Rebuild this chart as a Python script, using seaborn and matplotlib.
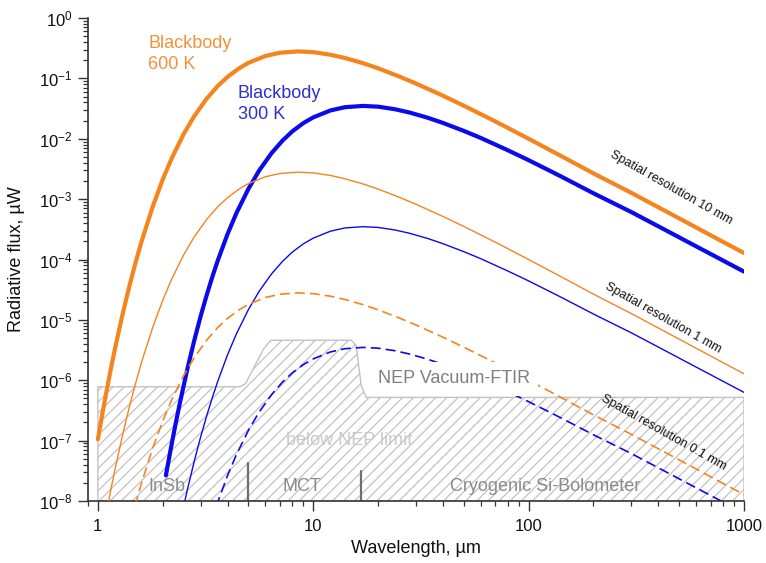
import matplotlib
matplotlib.use("Agg")
import matplotlib.pyplot as plt
from matplotlib.ticker import LogLocator, NullFormatter
import seaborn as sns

# ---- data -------------------------------------------------------------
# wavelength grid (µm) for the 600 K blackbody
wl_600 = [1.0, 1.05, 1.1, 1.15, 1.2, 1.3, 1.4, 1.5, 1.6, 1.8, 2.0, 2.2, 2.5, 2.8,
          3.2, 3.6, 4.0, 4.5, 5.0, 6.0, 7.0, 8.5, 10, 12, 14, 17, 20, 25, 30, 40,
          50, 70, 100, 150, 200, 300, 500, 700, 1000]
# radiative flux (µW) at 10 mm, 1 mm and 0.1 mm spatial resolution
flux_600_10mm = [1.05e-7, 2.83e-7, 6.95e-7, 1.57e-6, 3.30e-6, 1.205e-5, 3.61e-5,
                 9.18e-5, 2.06e-4, 7.63e-4, 2.11e-3, 4.71e-3, 1.19e-2, 2.36e-2,
                 4.62e-2, 7.46e-2, 0.106, 0.145, 0.181, 0.235, 0.266, 0.280, 0.272,
                 0.247, 0.218, 0.179, 0.147, 0.108, 0.0822, 0.0517, 0.0353, 0.0194,
                 0.0100, 4.64e-3, 2.67e-3, 1.27e-3, 4.8e-4, 2.52e-4, 1.28e-4]
flux_600_1mm = [1.05e-9, 2.83e-9, 6.95e-9, 1.57e-8, 3.30e-8, 1.205e-7, 3.61e-7,
                9.18e-7, 2.06e-6, 7.63e-6, 2.11e-5, 4.71e-5, 1.19e-4, 2.36e-4,
                4.62e-4, 7.46e-4, 1.06e-3, 1.45e-3, 1.81e-3, 2.35e-3, 2.66e-3,
                2.80e-3, 2.72e-3, 2.47e-3, 2.18e-3, 1.79e-3, 1.47e-3, 1.08e-3,
                8.22e-4, 5.17e-4, 3.53e-4, 1.94e-4, 1.00e-4, 4.64e-5, 2.67e-5,
                1.27e-5, 4.8e-6, 2.52e-6, 1.28e-6]
flux_600_01mm = [1.05e-11, 2.83e-11, 6.95e-11, 1.57e-10, 3.30e-10, 1.205e-9,
                 3.61e-9, 9.18e-9, 2.06e-8, 7.63e-8, 2.11e-7, 4.71e-7, 1.19e-6,
                 2.36e-6, 4.62e-6, 7.46e-6, 1.06e-5, 1.45e-5, 1.81e-5, 2.35e-5,
                 2.66e-5, 2.80e-5, 2.72e-5, 2.47e-5, 2.18e-5, 1.79e-5, 1.47e-5,
                 1.08e-5, 8.22e-6, 5.17e-6, 3.53e-6, 1.94e-6, 1.00e-6, 4.64e-7,
                 2.67e-7, 1.27e-7, 4.8e-8, 2.52e-8, 1.28e-8]

# wavelength grid (µm) for the 300 K blackbody
wl_300 = [2.0, 2.07, 2.1, 2.2, 2.3, 2.4, 2.6, 2.8, 3.0, 3.2, 3.4, 3.6, 4.0, 4.4,
          5.0, 5.6, 6.4, 7.2, 8.0, 9.0, 10, 12, 14, 17, 20, 24, 28, 34, 40, 50,
          60, 80, 100, 140, 200, 300, 400, 600, 1000]
flux_300_10mm = [1.31e-8, 2.66e-8, 3.54e-8, 8.69e-8, 1.96e-7, 4.12e-7, 1.51e-6,
                 4.51e-6, 1.15e-5, 2.57e-5, 5.17e-5, 9.54e-5, 2.64e-4, 5.89e-4,
                 1.48e-3, 2.95e-3, 5.77e-3, 9.33e-3, 1.33e-2, 1.82e-2, 2.26e-2,
                 2.94e-2, 3.33e-2, 3.50e-2, 3.40e-2, 3.08e-2, 2.72e-2, 2.23e-2,
                 1.83e-2, 1.35e-2, 1.03e-2, 6.46e-3, 4.42e-3, 2.42e-3, 1.25e-3,
                 6.1e-4, 3.55e-4, 1.65e-4, 6.3e-5]
flux_300_1mm = [1.31e-10, 2.66e-10, 3.54e-10, 8.69e-10, 1.96e-9, 4.12e-9, 1.51e-8,
                4.51e-8, 1.15e-7, 2.57e-7, 5.17e-7, 9.54e-7, 2.64e-6, 5.89e-6,
                1.48e-5, 2.95e-5, 5.77e-5, 9.33e-5, 1.33e-4, 1.82e-4, 2.26e-4,
                2.94e-4, 3.33e-4, 3.50e-4, 3.40e-4, 3.08e-4, 2.72e-4, 2.23e-4,
                1.83e-4, 1.35e-4, 1.03e-4, 6.46e-5, 4.42e-5, 2.42e-5, 1.25e-5,
                6.1e-6, 3.55e-6, 1.65e-6, 6.3e-7]
flux_300_01mm = [1.31e-12, 2.66e-12, 3.54e-12, 8.69e-12, 1.96e-11, 4.12e-11,
                 1.51e-10, 4.51e-10, 1.15e-9, 2.57e-9, 5.17e-9, 9.54e-9, 2.64e-8,
                 5.89e-8, 1.48e-7, 2.95e-7, 5.77e-7, 9.33e-7, 1.33e-6, 1.82e-6,
                 2.26e-6, 2.94e-6, 3.33e-6, 3.50e-6, 3.40e-6, 3.08e-6, 2.72e-6,
                 2.23e-6, 1.83e-6, 1.35e-6, 1.03e-6, 6.46e-7, 4.42e-7, 2.42e-7,
                 1.25e-7, 6.1e-8, 3.55e-8, 1.65e-8, 6.3e-9]

# noise-equivalent power of the vacuum FTIR (detector dependent)
nep_wl = [1.0, 4.55, 4.85, 5.85, 6.35, 15.0, 15.8, 16.7, 17.6, 1000]
nep_flux = [7.8e-7, 7.8e-7, 8.8e-7, 3.2e-6, 4.6e-6, 4.6e-6, 3.8e-6, 8.2e-7, 5.2e-7, 5.2e-7]

# detector ranges and the boundaries between them
detector_names = ["InSb", "MCT", "Cryogenic Si-Bolometer"]
detector_label_wl = [1.71, 7.2, 43.0]
detector_edges = [5.0, 16.7]
detector_edge_tops = [4.3e-8, 3.2e-8]

resolution_labels = ["Spatial resolution 10 mm", "Spatial resolution 1 mm",
                     "Spatial resolution 0.1 mm"]

x_ticks = [1, 10, 100, 1000]
x_tick_labels = ["1", "10", "100", "1000"]
y_ticks = [1e-8, 1e-7, 1e-6, 1e-5, 1e-4, 1e-3, 1e-2, 1e-1, 1e0]

# ---- style ------------------------------------------------------------
sns.set_style("ticks")
plt.rcParams["font.family"] = ["Liberation Sans", "DejaVu Sans"]
plt.rcParams["mathtext.default"] = "regular"
plt.rcParams["hatch.color"] = "#ababab"
plt.rcParams["hatch.linewidth"] = 0.9

ORANGE = "#F5841F"
BLUE = "#0A0AEB"
AXIS = "#333333"

fig = plt.figure(figsize=(7.66, 5.63), dpi=100)
ax = fig.add_axes([0.1149, 0.1101, 0.8564, 0.8579])
ax.set_xscale("log")
ax.set_yscale("log")
ax.set_xlim(0.9, 1000)
ax.set_ylim(1e-8, 1)

# region below the NEP limit
ax.fill_between(nep_wl, nep_flux, 1e-8, facecolor="white", edgecolor="#c2c2c2",
                hatch="///", linewidth=1.0, zorder=1)

# detector boundaries
for edge, top in zip(detector_edges, detector_edge_tops):
    ax.plot([edge, edge], [1e-8, top], color="#6e6e6e", lw=1.6, zorder=2)

# blackbody curves
common = dict(ax=ax, estimator=None, sort=False, legend=False, zorder=3)
sns.lineplot(x=wl_600, y=flux_600_10mm, color=ORANGE, linewidth=3.0, **common)
sns.lineplot(x=wl_300[1:], y=flux_300_10mm[1:], color=BLUE, linewidth=3.0, **common)
sns.lineplot(x=wl_600, y=flux_600_1mm, color=ORANGE, linewidth=1.0, **common)
sns.lineplot(x=wl_300, y=flux_300_1mm, color=BLUE, linewidth=1.0, **common)
sns.lineplot(x=wl_600, y=flux_600_01mm, color=ORANGE, linewidth=1.2,
             linestyle=(0, (6, 3)), **common)
sns.lineplot(x=wl_300, y=flux_300_01mm, color=BLUE, linewidth=1.2,
             linestyle=(0, (6, 3)), **common)

# ---- annotations ------------------------------------------------------
ax.text(1.71, 0.52, "Blackbody\n600 K", color="#F0923A", fontsize=13,
        va="top", ha="left", linespacing=1.3, zorder=6)
ax.text(4.46, 0.078, "Blackbody\n300 K", color="#2F2FD2", fontsize=13,
        va="top", ha="left", linespacing=1.3, zorder=6)

ax.text(19.9, 1.05e-6, "NEP Vacuum-FTIR", color="#7f7f7f", fontsize=13,
        va="center", ha="left", zorder=5,
        bbox=dict(boxstyle="square,pad=0.45", fc="white", ec="none"))
ax.text(7.5, 1.02e-7, "below NEP limit", color="#c9c9c9", fontsize=13,
        va="center", ha="left", zorder=4)

for name, x in zip(detector_names, detector_label_wl):
    ax.text(x, 1.76e-8, name, color="#8a8a8a", fontsize=13,
            va="center", ha="left", zorder=4)

for label, (x, y) in zip(resolution_labels,
                         [(458, 1.55e-3), (419, 1.07e-5), (423, 1.38e-7)]):
    ax.text(x, y, label, fontsize=9, color="#111111", rotation=-29.5,
            rotation_mode="anchor", ha="center", va="center", zorder=6)

# ---- axes -------------------------------------------------------------
ax.set_xlabel("Wavelength, µm", fontsize=13, color="#111111")
ax.set_ylabel("Radiative flux, µW", fontsize=13, color="#111111")
ax.xaxis.set_label_coords(0.5, -0.081)
ax.yaxis.set_label_coords(-0.096, 0.5)

ax.set_xticks(x_ticks)
ax.set_xticklabels(x_tick_labels)
ax.set_yticks(y_ticks)
ax.xaxis.set_minor_locator(LogLocator(base=10, subs=range(2, 10), numticks=20))
ax.yaxis.set_minor_locator(LogLocator(base=10, subs=range(2, 10), numticks=40))
ax.xaxis.set_minor_formatter(NullFormatter())
ax.yaxis.set_minor_formatter(NullFormatter())
ax.set_xlim(0.9, 1000)
ax.set_ylim(1e-8, 1)

ax.tick_params(which="major", direction="out", length=7, width=1.0,
               color=AXIS, labelsize=12, labelcolor="#111111", pad=4)
ax.tick_params(which="minor", direction="out", length=3.5, width=0.9, color=AXIS)
ax.tick_params(axis="x", which="major", pad=6)

for side in ("top", "right"):
    ax.spines[side].set_visible(False)
for side in ("left", "bottom"):
    ax.spines[side].set_color(AXIS)
    ax.spines[side].set_linewidth(1.2)

fig.savefig("out.png", dpi=100)
